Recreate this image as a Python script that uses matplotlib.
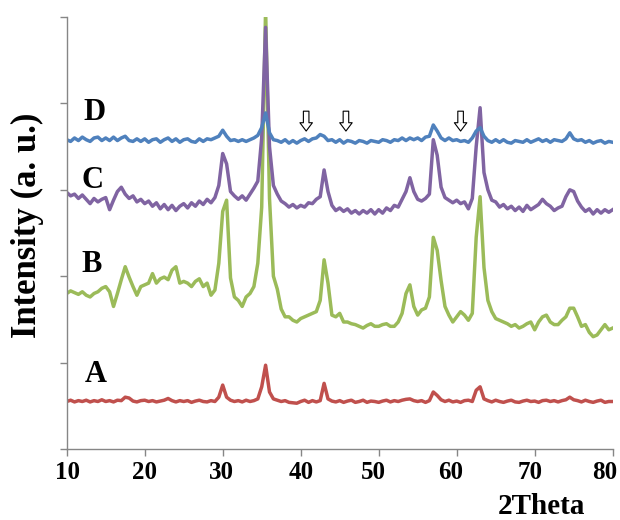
import matplotlib
matplotlib.use('Agg')
import matplotlib.pyplot as plt
import matplotlib.transforms as mtrans
import numpy as np

# 2Theta grid, 0.5 degree steps from 10 to 80
two_theta = np.arange(10, 80.5, 0.5)

# intensities (stacked, arbitrary units)
sample_a = [
	0.55, 0.565, 0.545, 0.56, 0.55, 0.565, 0.545, 0.56, 0.55, 0.57,
	0.55, 0.56, 0.545, 0.565, 0.56, 0.60, 0.59, 0.555, 0.545, 0.56,
	0.565, 0.55, 0.56, 0.545, 0.555, 0.565, 0.585, 0.56, 0.545, 0.56,
	0.55, 0.56, 0.54, 0.555, 0.565, 0.55, 0.545, 0.56, 0.55, 0.60,
	0.74, 0.60, 0.565, 0.55, 0.56, 0.545, 0.565, 0.55, 0.56, 0.58,
	0.72, 0.97, 0.66, 0.58, 0.565, 0.55, 0.56, 0.54, 0.535, 0.53,
	0.55, 0.565, 0.54, 0.56, 0.545, 0.56, 0.76, 0.58, 0.555, 0.545,
	0.56, 0.54, 0.555, 0.565, 0.54, 0.55, 0.565, 0.54, 0.555, 0.55,
	0.54, 0.555, 0.565, 0.545, 0.56, 0.55, 0.565, 0.575, 0.58, 0.56,
	0.55, 0.56, 0.54, 0.56, 0.66, 0.62, 0.57, 0.55, 0.565, 0.545,
	0.555, 0.54, 0.56, 0.565, 0.55, 0.68, 0.72, 0.58, 0.56, 0.545,
	0.565, 0.55, 0.54, 0.555, 0.565, 0.545, 0.54, 0.555, 0.565, 0.55,
	0.555, 0.54, 0.56, 0.565, 0.55, 0.56, 0.545, 0.56, 0.57, 0.60,
	0.57, 0.56, 0.545, 0.565, 0.55, 0.54, 0.555, 0.565, 0.54, 0.55,
	0.55]

sample_b = [
	1.80, 1.83, 1.81, 1.79, 1.82, 1.78, 1.76, 1.80, 1.82, 1.86,
	1.88, 1.82, 1.65, 1.80, 1.96, 2.11, 1.99, 1.88, 1.78, 1.88,
	1.90, 1.92, 2.03, 1.92, 1.97, 1.99, 1.96, 2.07, 2.11, 1.92,
	1.94, 1.92, 1.88, 1.94, 1.97, 1.88, 1.92, 1.78, 1.84, 2.15,
	2.75, 2.88, 1.98, 1.76, 1.72, 1.65, 1.76, 1.80, 1.88, 2.15,
	2.80, 5.10, 2.90, 2.00, 1.85, 1.62, 1.53, 1.53, 1.49, 1.47,
	1.51, 1.53, 1.55, 1.57, 1.59, 1.72, 2.19, 1.92, 1.55, 1.53,
	1.57, 1.47, 1.47, 1.45, 1.44, 1.42, 1.40, 1.43, 1.45, 1.42,
	1.42, 1.44, 1.45, 1.42, 1.42, 1.47, 1.57, 1.80, 1.90, 1.65,
	1.55, 1.61, 1.63, 1.76, 2.45, 2.30, 1.95, 1.65, 1.55, 1.47,
	1.53, 1.59, 1.55, 1.49, 1.57, 2.45, 2.92, 2.10, 1.72, 1.59,
	1.51, 1.49, 1.47, 1.45, 1.42, 1.44, 1.40, 1.42, 1.45, 1.47,
	1.38, 1.47, 1.53, 1.55, 1.47, 1.44, 1.44, 1.49, 1.53, 1.63,
	1.63, 1.53, 1.42, 1.44, 1.35, 1.30, 1.32, 1.38, 1.44, 1.38,
	1.40]

sample_c = [
	2.97, 2.93, 2.95, 2.90, 2.94, 2.89, 2.84, 2.90, 2.86, 2.89,
	2.91, 2.77, 2.88, 2.98, 3.03, 2.95, 2.90, 2.93, 2.86, 2.89,
	2.84, 2.87, 2.81, 2.85, 2.78, 2.83, 2.77, 2.82, 2.76, 2.81,
	2.84, 2.79, 2.85, 2.81, 2.87, 2.83, 2.89, 2.85, 2.91, 3.05,
	3.42, 3.30, 2.98, 2.93, 2.89, 2.93, 2.88, 2.95, 3.02, 3.10,
	3.60, 4.88, 3.50, 3.05, 2.95, 2.87, 2.84, 2.80, 2.83, 2.79,
	2.82, 2.80, 2.85, 2.84, 2.89, 2.92, 3.23, 2.98, 2.82, 2.76,
	2.79, 2.75, 2.78, 2.73, 2.76, 2.72, 2.76, 2.73, 2.77, 2.72,
	2.77, 2.73, 2.79, 2.76, 2.82, 2.80, 2.89, 2.98, 3.14, 2.98,
	2.89, 2.87, 2.90, 2.95, 3.58, 3.40, 3.03, 2.91, 2.88, 2.85,
	2.88, 2.84, 2.86, 2.78, 2.90, 3.50, 3.95, 3.20, 3.00, 2.88,
	2.86, 2.80, 2.83, 2.78, 2.81, 2.76, 2.80, 2.75, 2.82, 2.77,
	2.80, 2.83, 2.89, 2.84, 2.81, 2.76, 2.79, 2.81, 2.92, 3.00,
	2.98, 2.87, 2.80, 2.75, 2.78, 2.72, 2.77, 2.73, 2.77, 2.74,
	2.77]

sample_d = [
	3.58, 3.56, 3.60, 3.57, 3.61, 3.58, 3.56, 3.60, 3.61, 3.57,
	3.60, 3.57, 3.61, 3.57, 3.60, 3.62, 3.57, 3.56, 3.59, 3.56,
	3.59, 3.55, 3.58, 3.59, 3.55, 3.58, 3.60, 3.56, 3.59, 3.55,
	3.58, 3.59, 3.56, 3.55, 3.59, 3.56, 3.59, 3.58, 3.60, 3.62,
	3.69, 3.62, 3.57, 3.58, 3.56, 3.58, 3.56, 3.58, 3.60, 3.63,
	3.72, 3.89, 3.66, 3.58, 3.57, 3.55, 3.58, 3.54, 3.57, 3.54,
	3.57, 3.59, 3.56, 3.59, 3.60, 3.64, 3.62, 3.57, 3.58, 3.55,
	3.58, 3.54, 3.57, 3.56, 3.54, 3.57, 3.56, 3.54, 3.57, 3.56,
	3.55, 3.58, 3.57, 3.55, 3.58, 3.57, 3.60, 3.57, 3.60, 3.58,
	3.60, 3.57, 3.61, 3.62, 3.75, 3.68, 3.60, 3.57, 3.60, 3.57,
	3.58, 3.56, 3.57, 3.55, 3.60, 3.68, 3.72, 3.62, 3.57, 3.55,
	3.58, 3.55, 3.58, 3.55, 3.54, 3.57, 3.56, 3.55, 3.58, 3.55,
	3.57, 3.59, 3.56, 3.58, 3.55, 3.58, 3.57, 3.56, 3.59, 3.66,
	3.59, 3.57, 3.58, 3.55, 3.57, 3.54, 3.56, 3.57, 3.54, 3.56,
	3.55]

names = ['A', 'B', 'C', 'D']
colors = ['#c0504d', '#9bbb59', '#8064a2', '#4f81bd']
label_x = [13.75, 13.25, 13.25, 13.5]
label_y = [0.86, 2.13, 3.11, 3.89]
arrow_x = [40.7, 45.8, 60.5]
xtick_vals = list(range(10, 81, 10))
xtick_shift = [1, 0, -1, 0, -5, -6, -5, -8] # px, the labels sit a bit left of their ticks

serif = ['Liberation Serif', 'DejaVu Serif']

def make_plot():
	fig = plt.figure(figsize=(6.2, 5.2), dpi=100)
	ax = fig.add_axes([0.1076, 0.1365, 0.8806, 0.8308])
	series = [sample_a, sample_b, sample_c, sample_d]
	for y, c in zip(series, colors):
		ax.plot(two_theta, y, color=c, lw=2.5, solid_joinstyle='round')
	for n, lx, ly in zip(names, label_x, label_y):
		ax.text(lx, ly, n, family=serif, fontweight='bold', fontsize=22,
			ha='center', va='center')
	for xa in arrow_x:
		ax.annotate('', xy=(xa, 3.68), xytext=(xa, 3.91),
			arrowprops=dict(arrowstyle='simple,head_width=0.9,head_length=0.6,tail_width=0.4',
				fc='white', ec='black', lw=0.8, shrinkA=0, shrinkB=0))
	ax.set_xlim(10, 80)
	ax.set_ylim(0, 5)
	ax.set_xticks(xtick_vals)
	ax.set_xticklabels([])
	ax.set_yticks(range(0, 6))
	ax.set_yticklabels([])
	# tick labels drawn by hand so they can be nudged like in the original
	base = mtrans.blended_transform_factory(ax.transData, ax.transAxes)
	for v, dx in zip(xtick_vals, xtick_shift):
		tr = base + mtrans.ScaledTranslation(dx/100, -0.12, fig.dpi_scale_trans)
		ax.text(v, 0, str(v), transform=tr, family=serif, fontweight='bold',
			fontsize=18, ha='center', va='top', clip_on=False)
	ax.tick_params(axis='both', direction='out', length=5, color='#868686', width=1)
	for s in ['top', 'right']:
		ax.spines[s].set_visible(False)
	for s in ['left', 'bottom']:
		ax.spines[s].set_color('#868686')
		ax.spines[s].set_linewidth(1)
	fig.text(0.044, 0.566, 'Intensity (a. u.)', rotation=90, family=serif,
		fontweight='bold', fontsize=25, ha='center', va='center')
	fig.text(0.874, 0.012, '2Theta', family=serif, fontweight='bold',
		fontsize=21, ha='center', va='baseline')
	fig.savefig('out.png', dpi=100)

if __name__ == '__main__': make_plot()
